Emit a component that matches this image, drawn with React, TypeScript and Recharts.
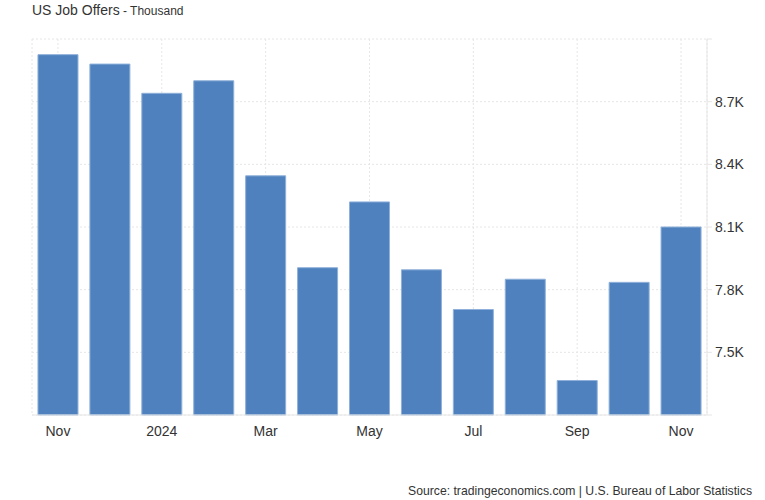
import {
  BarChart,
  Bar,
  XAxis,
  YAxis,
  CartesianGrid,
} from 'recharts';

const months = [
  'Nov', 'Dec', '2024', 'Feb', 'Mar', 'Apr', 'May',
  'Jun', 'Jul', 'Aug', 'Sep', 'Oct', 'Nov ',
];

const jobOffers = [
  8925, 8880, 8740, 8800, 8345, 7905, 8220,
  7895, 7705, 7850, 7365, 7835, 8100,
];

const yTicks = [7200, 7500, 7800, 8100, 8400, 8700, 9000];
const yLabels = [7500, 7800, 8100, 8400, 8700];

const data = months.map((m, i) => ({ month: m, value: jobOffers[i] }));

const FONT = 'Arial, "Liberation Sans", sans-serif';
const GRID = '#e6e6e6';

const fmtK = (v: number) => (v / 1000).toFixed(1) + 'K';

const YTick = (props: any) => {
  const { x, y, payload } = props;
  if (!yLabels.includes(payload.value)) return <g />;
  return (
    <text
      x={x + 1}
      y={y}
      dy={5}
      textAnchor="start"
      fill="#333"
      fontSize={14}
      fontFamily={FONT}
    >
      {fmtK(payload.value)}
    </text>
  );
};

export default function App() {
  return (
    <div
      style={{
        position: 'absolute',
        left: 0,
        top: 0,
        width: 765,
        height: 500,
        background: '#fff',
        fontFamily: FONT,
      }}
    >
      <div style={{ position: 'absolute', left: 32, top: 1, color: '#333' }}>
        <span style={{ fontSize: 14 }}>US Job Offers</span>
        <span style={{ fontSize: 12 }}> - Thousand</span>
      </div>
      <BarChart
        width={765}
        height={500}
        data={data}
        margin={{ top: 39, right: 8, left: 32, bottom: 55 }}
        barCategoryGap="11.5%"
      >
        <CartesianGrid
          yAxisId="r"
          stroke={GRID}
          strokeDasharray="2 2"
        />
        <XAxis
          dataKey="month"
          interval={1}
          height={30}
          axisLine={{ stroke: GRID }}
          tickLine={false}
          tick={{ fill: '#333', fontSize: 14, fontFamily: FONT }}
          tickMargin={5}
        />
        <YAxis
          yAxisId="l"
          orientation="left"
          width={0}
          domain={[7200, 9000]}
          ticks={yTicks}
          tick={false}
          tickLine={false}
          axisLine={{ stroke: GRID }}
        />
        <YAxis
          yAxisId="r"
          orientation="right"
          width={50}
          domain={[7200, 9000]}
          ticks={yTicks}
          interval={0}
          axisLine={{ stroke: GRID }}
          tickLine={{ stroke: GRID }}
          tickSize={5}
          tick={<YTick />}
        />
        <Bar
          yAxisId="r"
          dataKey="value"
          fill="#4e81bd"
          stroke="#8fb0da"
          strokeWidth={1}
          isAnimationActive={false}
        />
      </BarChart>
      <div
        style={{
          position: 'absolute',
          right: 13,
          top: 484,
          fontSize: 12.2,
          color: '#333',
        }}
      >
        Source: tradingeconomics.com | U.S. Bureau of Labor Statistics
      </div>
    </div>
  );
}
